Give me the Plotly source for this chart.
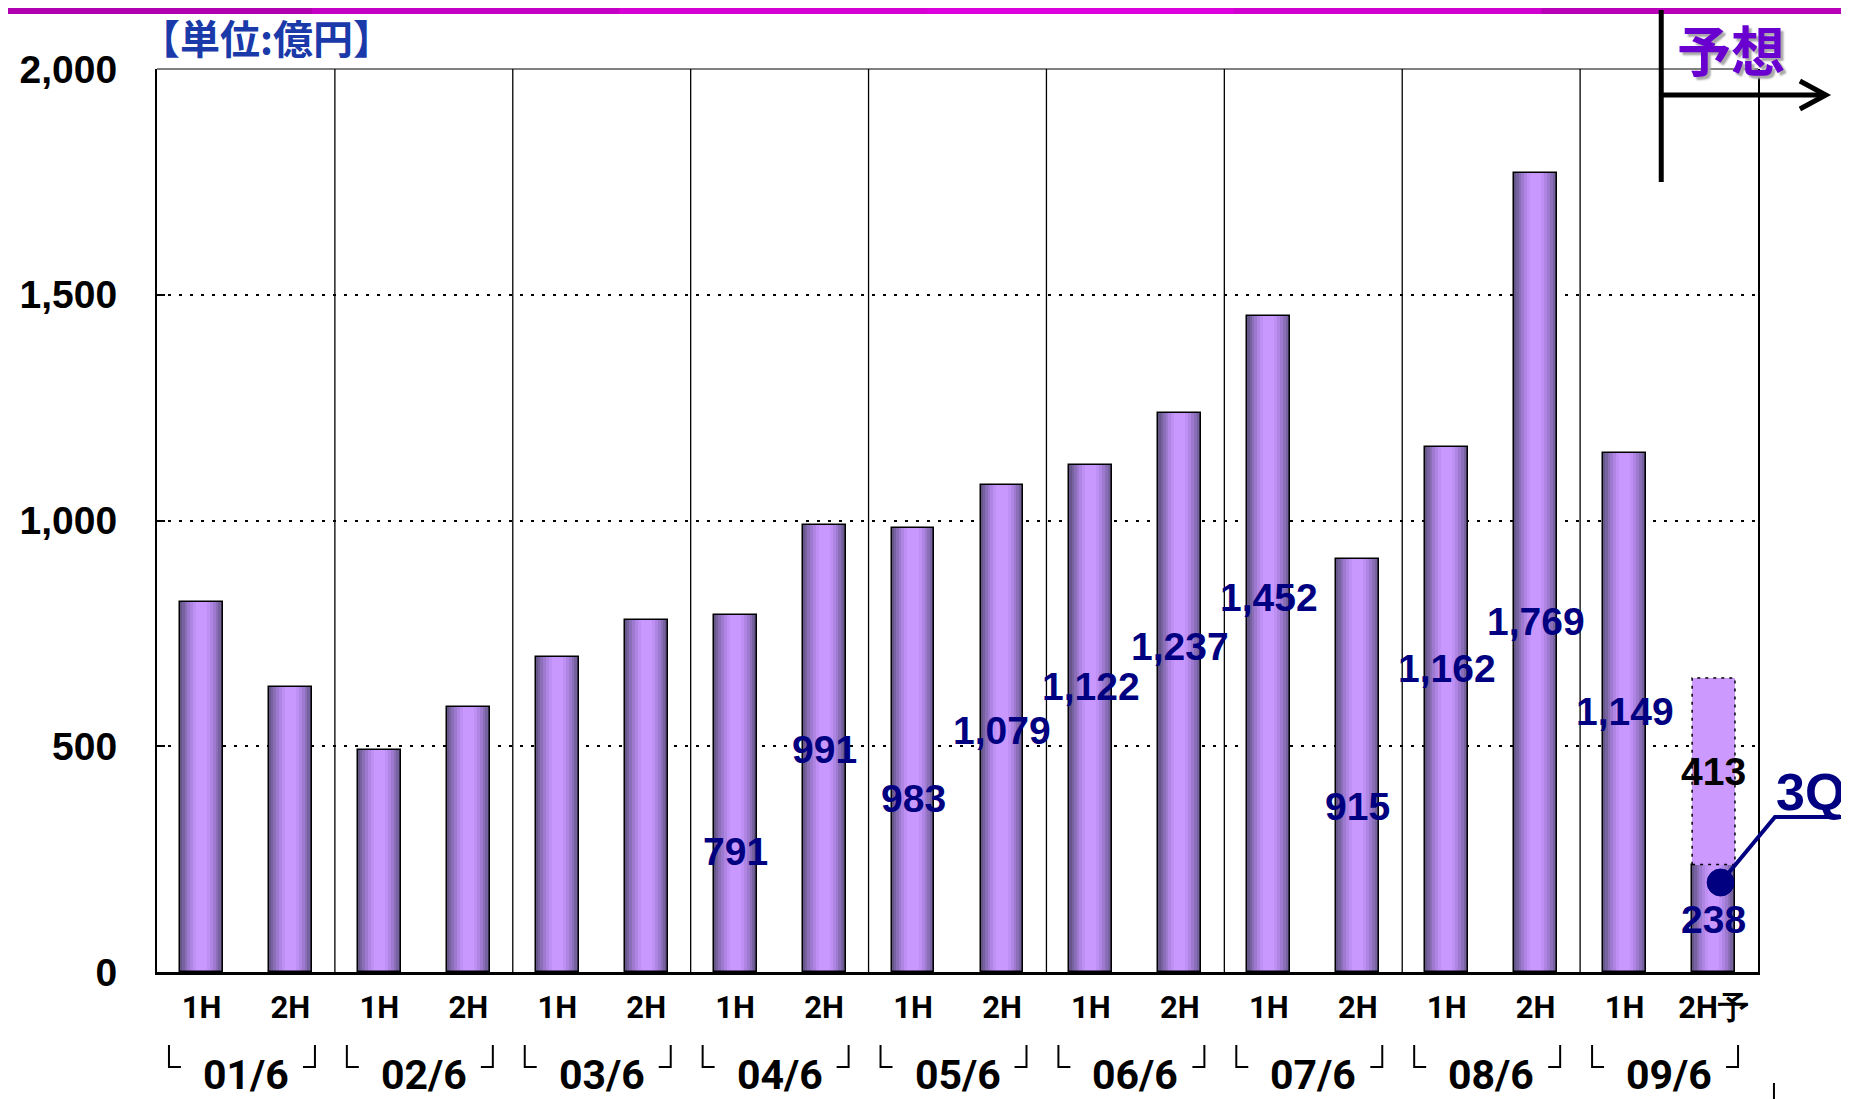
import plotly.graph_objects as go

# ---- data ----
half_labels = ["1H", "2H"] * 8 + ["1H", "2H予"]
years = ["01/6", "02/6", "03/6", "04/6", "05/6", "06/6", "07/6", "08/6", "09/6"]
profit = [820, 632, 492, 586, 698, 780, 791, 991, 983, 1079,
          1122, 1237, 1452, 915, 1162, 1769, 1149, 238]
forecast_extra = [413]          # 09/6 2H remainder (forecast)
forecast_idx = 17

# where the value labels sit (data units), None = no label
label_y = [None] * 6 + [267, 492, 385, 534, 633, 722, 829, 367, 672, 777, 576, 116]
forecast_label_y = 443

NAVY = "#000080"
BAR_W = 0.482
NARROW = "Roboto, Liberation Sans Narrow, sans-serif"
SANS = "Liberation Sans, Arial, sans-serif"
CJK = "Noto Sans CJK JP, Noto Sans CJK SC, sans-serif"

# page has an 8px body margin, so the figure is a bit smaller than the window
OFF = 8
W_PX, H_PX = 1849, 1099
# plot box in page pixels
PX0, PX1, PY0, PY1 = 153, 1758, 69, 972
PW, PH = PX1 - PX0, PY1 - PY0
FIG_W, FIG_H = W_PX - OFF, H_PX - OFF
L, T = PX0 - OFF, PY0 - OFF
R, B = FIG_W - (PX1 - OFF), FIG_H - (PY1 - OFF)


def px(x):
    return (x - PX0) / PW


def py(y):
    return (PY1 - y) / PH


x = list(range(len(profit)))
fig = go.Figure()

# cylinder-ish shading: stacked layers of narrowing bars
shades = [(1.00, "#66568A"), (0.90, "#7762A0"), (0.79, "#8A6EB8"),
          (0.67, "#9D7ACF"), (0.54, "#AF85E3"), (0.40, "#BF90F4"), (0.26, "#C898FF")]
for frac, col in shades:
    fig.add_trace(go.Bar(x=x, y=profit, width=BAR_W * frac,
                         marker=dict(color=col, line=dict(width=0)),
                         hoverinfo="skip", showlegend=False))
fig.add_trace(go.Bar(x=x, y=profit, width=BAR_W,
                     marker=dict(color="rgba(0,0,0,0)", line=dict(color="black", width=1.5)),
                     hoverinfo="skip", showlegend=False))
# forecast part
fig.add_trace(go.Bar(x=[forecast_idx], y=forecast_extra, base=[profit[forecast_idx]], width=BAR_W,
                     marker=dict(color="#CC99FF", line=dict(width=0)),
                     hoverinfo="skip", showlegend=False))

shapes = []
annotations = []

# dotted outline of forecast box
shapes.append(dict(type="rect", xref="x", yref="y",
                   x0=forecast_idx - BAR_W / 2, x1=forecast_idx + BAR_W / 2,
                   y0=profit[forecast_idx], y1=profit[forecast_idx] + forecast_extra[0],
                   line=dict(color="black", width=1.5, dash="3px,5px")))

# group separators
for g in range(1, len(years)):
    shapes.append(dict(type="line", xref="x", yref="paper", x0=2 * g - 0.5, x1=2 * g - 0.5,
                       y0=0, y1=1, line=dict(color="black", width=1.3)))
# top border (thin)
shapes.append(dict(type="line", xref="paper", yref="paper", x0=0, x1=1, y0=1, y1=1,
                   line=dict(color="black", width=1)))

# brackets under each year label
cat_px = PW / len(profit)
for g, yr in enumerate(years):
    left = 2 * g - 0.5 + 12 / cat_px
    right = 2 * g + 1.5 - 20 / cat_px
    arm = 12 / cat_px
    ytop, ybot = py(1045), py(1067)
    shapes.append(dict(type="path", xref="x", yref="paper",
                       path=f"M {left} {ytop} L {left} {ybot} L {left + arm} {ybot}",
                       line=dict(color="black", width=2)))
    shapes.append(dict(type="path", xref="x", yref="paper",
                       path=f"M {right} {ytop} L {right} {ybot} L {right - arm} {ybot}",
                       line=dict(color="black", width=2)))
    annotations.append(dict(x=2 * g + 0.5, y=py(1075), xref="x", yref="paper",
                            text=yr, showarrow=False, xanchor="center", yanchor="middle",
                            font=dict(family=NARROW, size=41, color="black", weight="bold")))

# stray tick at bottom right
shapes.append(dict(type="line", xref="paper", yref="paper", x0=px(1774), x1=px(1774),
                   y0=py(1083), y1=py(1099), line=dict(color="black", width=2)))

# top magenta band
band = ["#B000B0", "#C400C4", "#D400D4", "#DC00DC", "#D000D0", "#B800B8"]
seg = W_PX / len(band)
for i, c in enumerate(band):
    shapes.append(dict(type="rect", xref="paper", yref="paper",
                       x0=px(i * seg), x1=px((i + 1) * seg + 1), y0=py(OFF + 6), y1=py(OFF),
                       line=dict(width=0), fillcolor=c, layer="above"))

# forecast arrow
shapes.append(dict(type="line", xref="paper", yref="paper", x0=px(1661), x1=px(1661),
                   y0=py(10), y1=py(182), line=dict(color="black", width=5)))
shapes.append(dict(type="line", xref="paper", yref="paper", x0=px(1661), x1=px(1825),
                   y0=py(95), y1=py(95), line=dict(color="black", width=5)))
shapes.append(dict(type="path", xref="paper", yref="paper",
                   path=f"M {px(1800)} {py(81)} L {px(1826)} {py(95)} L {px(1800)} {py(109)}",
                   line=dict(color="black", width=5)))

# 3Q callout
shapes.append(dict(type="path", xref="paper", yref="paper",
                   path=f"M {px(1721)} {py(882)} L {px(1775)} {py(817)} L {px(1849)} {py(817)}",
                   line=dict(color=NAVY, width=4)))
shapes.append(dict(type="circle", xref="paper", yref="paper",
                   x0=px(1707), x1=px(1734), y0=py(869), y1=py(896),
                   fillcolor=NAVY, line=dict(color=NAVY, width=1)))
annotations.append(dict(x=px(1847), y=py(792), xref="paper", yref="paper", text="3Q",
                        showarrow=False, xanchor="right", yanchor="middle",
                        font=dict(family=SANS, size=52, color=NAVY, weight="bold")))

# value labels
for i, (v, ly) in enumerate(zip(profit, label_y)):
    if ly is None:
        continue
    annotations.append(dict(x=i, y=ly, xref="x", yref="y", text=f"{v:,}", showarrow=False,
                            xanchor="center", yanchor="middle",
                            font=dict(family=SANS, size=39, color=NAVY, weight="bold")))
annotations.append(dict(x=forecast_idx, y=forecast_label_y, xref="x", yref="y",
                        text=f"{forecast_extra[0]:,}", showarrow=False,
                        xanchor="center", yanchor="middle",
                        font=dict(family=SANS, size=39, color="black", weight="bold")))

# unit and forecast titles
annotations.append(dict(x=px(134), y=py(37), xref="paper", yref="paper", text="【単位:億円】",
                        showarrow=False, xanchor="left", yanchor="middle",
                        font=dict(family=CJK, size=40, color="#1B3AAA", weight="bold")))
annotations.append(dict(x=px(1731), y=py(49), xref="paper", yref="paper", text="予想",
                        showarrow=False, xanchor="center", yanchor="middle",
                        font=dict(family=CJK, size=54, color="#6A00D0", weight="bold",
                                  shadow="3px 3px 2px #A8A8A8")))

fig.update_layout(
    width=FIG_W, height=FIG_H,
    margin=dict(l=L, r=R, t=T, b=B, pad=0),
    barmode="overlay",
    bargap=0,
    plot_bgcolor="white",
    paper_bgcolor="white",
    shapes=shapes,
    annotations=annotations,
    showlegend=False,
    xaxis=dict(range=[-0.5, len(profit) - 0.5], tickvals=x, ticktext=half_labels,
               showgrid=False, zeroline=False, showline=True, linecolor="black", linewidth=2.5,
               ticks="", ticklabelstandoff=6,
               tickfont=dict(family=NARROW, size=31, color="black", weight="bold")),
    yaxis=dict(range=[0, 2000], tickvals=[0, 500, 1000, 1500, 2000], tickformat=",d",
               showgrid=True, gridcolor="black", gridwidth=1.5, griddash="3px,8px",
               zeroline=False, showline=True, mirror=True, linecolor="black", linewidth=2,
               ticks="inside", ticklen=8, tickwidth=1.5, tickcolor="black",
               ticklabelstandoff=30,
               tickfont=dict(family=SANS, size=39, color="black", weight="bold")),
)

fig.write_html("out.html")
